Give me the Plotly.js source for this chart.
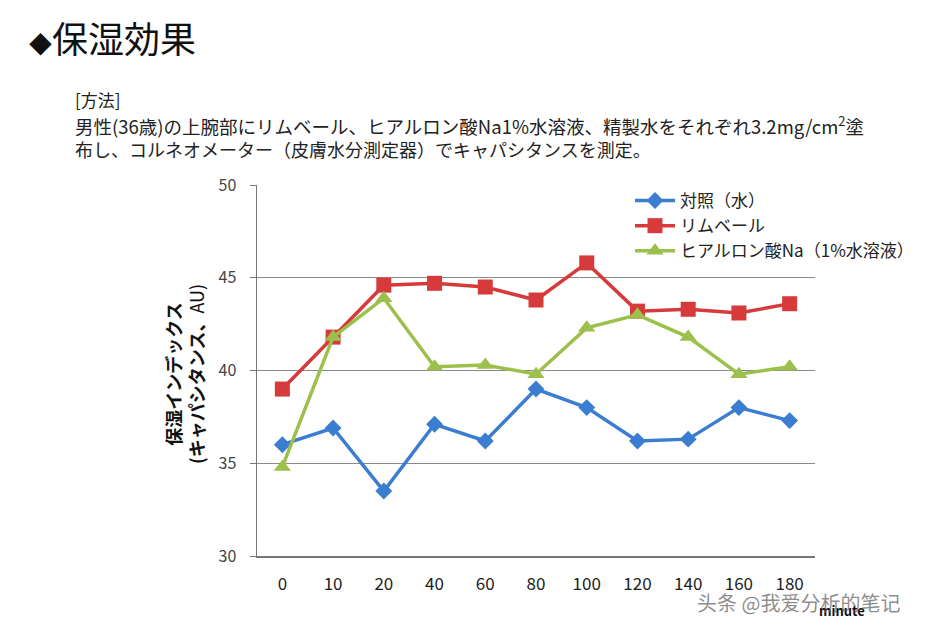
<!DOCTYPE html>
<html>
<head>
<meta charset="utf-8">
<script src="https://cdn.plot.ly/plotly-3.0.1.min.js"></script>
<style>html,body{margin:0;padding:0;background:#fff;}#chart{width:938px;height:626px;}</style>
</head>
<body>
<div id="chart"></div>
<script>
// ---- data ----
const categories = ['0','10','20','40','60','80','100','120','140','160','180'];
const seriesNames = ['対照（水）', 'リムベール', 'ヒアルロン酸Na（1%水溶液）'];
const controlWater = [36.0, 36.9, 33.5, 37.1, 36.2, 39.0, 38.0, 36.2, 36.3, 38.0, 37.3];
const rimbel = [39.0, 41.8, 44.6, 44.7, 44.5, 43.8, 45.8, 43.2, 43.3, 43.1, 43.6];
const hyaluronic = [34.8, 41.8, 43.9, 40.2, 40.3, 39.8, 42.3, 43.0, 41.8, 39.8, 40.2];
const yTicks = [30, 35, 40, 45, 50];

const JP = '"Noto Sans CJK JP", "Noto Sans", sans-serif';
const plotL = 257, plotR = 815, plotT = 185, plotB = 556;
const W = 938, H = 626;
const px = x => (x - plotL) / (plotR - plotL);
const py = y => (plotB - y) / (plotB - plotT);

const colors = ['#3b7dd0', '#d63a3a', '#9dc04c'];
const symbols = ['diamond', 'square', 'triangle-up'];
const sizes = [13, 15, 15];
const data = [controlWater, rimbel, hyaluronic].map((ys, i) => ({
  type: 'scatter', mode: 'lines+markers',
  x: categories, y: ys, name: seriesNames[i],
  line: {color: colors[i], width: 3.5},
  marker: {color: colors[i], symbol: symbols[i], size: sizes[i], line: {width: 0}}
}));

const layout = {
  width: W, height: H,
  margin: {l: plotL, r: W - plotR, t: plotT, b: H - plotB},
  paper_bgcolor: '#ffffff', plot_bgcolor: '#ffffff',
  font: {family: JP, color: '#222'},
  title: {text: '<span style="font-size:23px">◆</span>保湿効果', x: 29 / W, xanchor: 'left', y: 1 - 40 / H, yanchor: 'middle',
          font: {family: JP, size: 36, color: '#111'}},
  showlegend: true,
  legend: {x: px(630), y: py(183), xanchor: 'left', yanchor: 'top',
           font: {family: JP, size: 17, color: '#222'}, tracegroupgap: 0,
           bgcolor: 'rgba(0,0,0,0)', itemwidth: 40},
  xaxis: {type: 'category', range: [-0.5, 10.5], showgrid: false, zeroline: false,
          showline: true, linecolor: '#777', linewidth: 1.5, ticks: '', ticklabelstandoff: 12,
          tickfont: {family: JP, size: 17, color: '#222'}, fixedrange: true},
  yaxis: {range: [30, 50], tickvals: yTicks, showgrid: true, gridcolor: '#8a8a8a', gridwidth: 1.3,
          zeroline: false, showline: true, linecolor: '#777', linewidth: 1.5,
          ticks: 'outside', ticklen: 6, tickcolor: '#777', ticklabelstandoff: 10,
          tickfont: {family: JP, size: 16, color: '#444'}, fixedrange: true},
  annotations: [
    {text: '[方法]', xref: 'paper', yref: 'paper', x: px(73), y: py(100), xanchor: 'left', yanchor: 'middle',
     showarrow: false, font: {family: JP, size: 17, color: '#222'}},
    {text: '男性(36歳)の上腕部にリムベール、ヒアルロン酸Na1%水溶液、精製水をそれぞれ3.2mg/cm<sup>2</sup>塗', xref: 'paper', yref: 'paper', x: px(73), y: py(125), xanchor: 'left', yanchor: 'middle',
     showarrow: false, font: {family: JP, size: 18.5, color: '#222'}},
    {text: '布し、コルネオメーター（皮膚水分測定器）でキャパシタンスを測定。', xref: 'paper', yref: 'paper', x: px(73), y: py(149), xanchor: 'left', yanchor: 'middle',
     showarrow: false, font: {family: JP, size: 18, color: '#222'}},
    {text: '<b>保湿インデックス</b><br><b>(キャパシタンス、</b>AU)', xref: 'paper', yref: 'paper', x: px(184), y: py(374),
     xanchor: 'center', yanchor: 'middle', textangle: -90, showarrow: false,
     font: {family: JP, size: 18, color: '#111'}},
    {text: '<b>minute</b>', xref: 'paper', yref: 'paper', x: px(842), y: py(610), xanchor: 'center', yanchor: 'middle',
     showarrow: false, font: {family: JP, size: 13, color: '#111'}},
    {text: '头条 @我爱分析的笔记', xref: 'paper', yref: 'paper', x: px(798), y: py(602), xanchor: 'center', yanchor: 'middle',
     showarrow: false, font: {family: '"Noto Sans CJK SC", sans-serif', size: 20, color: 'rgba(90,90,90,0.7)'}}
  ]
};

Plotly.newPlot('chart', data, layout, {displayModeBar: false, staticPlot: true});
</script>
</body>
</html>
